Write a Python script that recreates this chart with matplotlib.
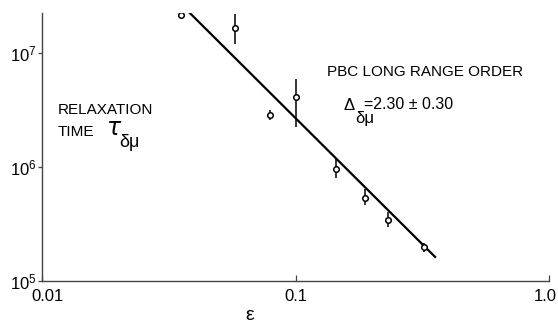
import matplotlib
matplotlib.use("Agg")
import matplotlib.pyplot as plt
import matplotlib.ticker as mticker
import matplotlib.transforms as mtransforms

plt.rcParams['font.family'] = ['Liberation Sans', 'DejaVu Sans']
plt.rcParams['mathtext.fontset'] = 'dejavusans'

# data
eps = [0.0355, 0.0575, 0.0793, 0.100, 0.1446, 0.1888, 0.2323, 0.322]
tau = [2.17e7, 1.67e7, 2.86e6, 4.11e6, 9.66e5, 5.35e5, 3.43e5, 2.00e5]
tau_hi = [2.17e7, 2.18e7, 3.16e6, 5.92e6, 1.20e6, 6.41e5, 4.05e5, 2.17e5]
tau_lo = [2.17e7, 1.19e7, 2.58e6, 2.26e6, 8.00e5, 4.64e5, 2.98e5, 1.81e5]

fit_eps = [0.0363, 0.358]
fit_tau = [2.52e7, 1.60e5]

x_ticks = [0.01, 0.1, 1.0]
x_ticklabels = ['0.01', '0.1', '1.0']
y_ticks = [1e5, 1e6, 1e7]
y_ticklabels = [r'$\mathregular{10^{5}}$', r'$\mathregular{10^{6}}$', r'$\mathregular{10^{7}}$']

W, H = 558, 326
fig = plt.figure(figsize=(W / 100, H / 100), dpi=100)
ax = fig.add_axes([42 / W, 1 - 281 / H, (549 - 42) / W, (281 - 13) / H])
ax.set_xscale('log')
ax.set_yscale('log')
ax.set_xlim(0.01, 1.0)
ax.set_ylim(1e5, 10 ** 7.35)

ax.plot(fit_eps, fit_tau, color='black', lw=1.6, solid_capstyle='butt', zorder=2)
yerr = [[t - l for t, l in zip(tau, tau_lo)], [h - t for t, h in zip(tau, tau_hi)]]
ax.errorbar(eps, tau, yerr=yerr, fmt='o', ms=4, mfc='white', mec='black', mew=1.1,
            ecolor='black', elinewidth=1.1, capsize=0, zorder=3)

for s in ['top', 'right']:
    ax.spines[s].set_visible(False)
for s in ['left', 'bottom']:
    ax.spines[s].set_color('#444444')
    ax.spines[s].set_linewidth(1.0)

ax.xaxis.set_major_locator(mticker.FixedLocator(x_ticks))
ax.xaxis.set_major_formatter(mticker.FixedFormatter(x_ticklabels))
ax.xaxis.set_minor_locator(mticker.NullLocator())
ax.yaxis.set_major_locator(mticker.FixedLocator(y_ticks))
ax.yaxis.set_major_formatter(mticker.FixedFormatter(y_ticklabels))
ax.yaxis.set_minor_locator(mticker.NullLocator())
ax.tick_params(axis='x', direction='in', length=4, width=0.9, pad=6, labelsize=12, color='#444444')
ax.tick_params(axis='y', direction='out', length=3, width=0.9, pad=1, labelsize=12, color='#444444')

fig.canvas.draw()
xlabels = ax.get_xticklabels()
shifts = [6, 0, -4]
for lab, dx in zip(xlabels, shifts):
    lab.set_transform(lab.get_transform() + mtransforms.ScaledTranslation(dx / 100, 0, fig.dpi_scale_trans))

def px(x, y):
    return x / W, 1 - y / H

fig.text(*px(250, 316), 'ε', fontsize=14, ha='center', va='center')

fig.text(*px(58, 114), 'RELAXATION', fontsize=11, ha='left', va='baseline')
fig.text(*px(58, 136), 'TIME', fontsize=11, ha='left', va='baseline')
fig.text(*px(106, 135), r'$\tau$', fontsize=17, ha='left', va='baseline')
fig.text(*px(119, 147), 'δμ', fontsize=13, ha='left', va='baseline')

fig.text(*px(327, 76), 'PBC LONG RANGE ORDER', fontsize=11, ha='left', va='baseline')
fig.text(*px(343, 110), 'Δ', fontsize=12, ha='left', va='baseline')
fig.text(*px(355, 123), 'δμ', fontsize=12, ha='left', va='baseline')
fig.text(*px(364, 109), '=2.30 ± 0.30', fontsize=11.5, ha='left', va='baseline')

fig.savefig('out.png', dpi=100)
